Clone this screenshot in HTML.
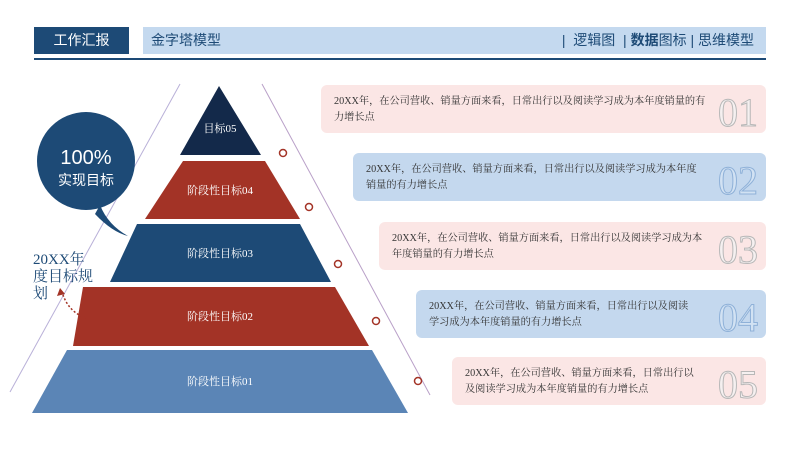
<!DOCTYPE html>
<html><head><meta charset="utf-8"><style>
body{margin:0;width:800px;height:450px;background:#fff;overflow:hidden;position:relative;font-family:"Liberation Serif","Noto Serif CJK SC",serif}
.abs{position:absolute}
.card{position:absolute;border-radius:6px;height:48px;}
.card p{margin:0;position:absolute;left:13px;top:9px;font-size:10.2px;line-height:16px;color:#333}
.num{position:absolute;right:8px;top:8px;font-size:40px;line-height:40px;color:transparent;-webkit-text-stroke:1px #b8b8b8;font-family:"Liberation Serif",serif}
.pink{background:#fbe6e5}
.blue{background:#c4d8ee}
.blue .num{-webkit-text-stroke:1px #8fb1d8;color:#d2e2f3}
.pink .num{color:#f5f0f0}
</style></head><body>
<div class="abs" style="left:34px;top:27px;width:95px;height:27px;background:#1d4a76;color:#fff;font-family:'Liberation Sans','Noto Sans CJK SC',sans-serif;font-size:14px;line-height:27px;text-align:center">工作汇报</div>
<div class="abs" style="left:143px;top:27px;width:623px;height:27px;background:#c4d9ef;font-family:'Liberation Sans','Noto Sans CJK SC',sans-serif;color:#1d4a76;font-size:14px;line-height:27px">
<span style="position:absolute;left:8px">金字塔模型</span>
<span style="position:absolute;right:12px">|&nbsp; 逻辑图 &nbsp;| <b>数据</b>图标 | 思维模型</span></div>
<div class="abs" style="left:34px;top:58px;width:732px;height:2px;background:#1d4a76"></div>

<svg class="abs" style="left:0;top:0" width="800" height="450">
<line x1="180" y1="84" x2="10" y2="392" stroke="#b9b0d8" stroke-width="1"/>
<line x1="262" y1="84" x2="430" y2="395" stroke="#b9a0c8" stroke-width="1"/>
<g fill="#fff" stroke="#a33326" stroke-width="1.5">
<circle cx="283" cy="153" r="3.5"/><circle cx="309" cy="207" r="3.5"/><circle cx="338" cy="264" r="3.5"/><circle cx="376" cy="321" r="3.5"/><circle cx="418" cy="381" r="3.5"/></g>
<polygon points="219,86 261,155 180,155" fill="#13294a"/>
<polygon points="183,161 265,161 300,219 145,219" fill="#a33326"/>
<polygon points="137,224 300,224 331,282 110,282" fill="#1d4a76"/>
<polygon points="83,287 335,287 369,346 73,346" fill="#a33326"/>
<polygon points="67,350 372,350 408,413 32,413" fill="#5b85b6"/>
<g fill="#fff" font-size="11" text-anchor="middle" font-family="Liberation Serif,Noto Serif CJK SC,serif">
<text x="220" y="132">目标05</text><text x="220" y="194">阶段性目标04</text><text x="220" y="257">阶段性目标03</text><text x="220" y="320">阶段性目标02</text><text x="220" y="385">阶段性目标01</text></g>
<path d="M100,205 Q108,225 128,236 Q112,232 95,214 Z" fill="#1d4a76"/>
<circle cx="86" cy="161" r="49" fill="#1d4a76"/>
<text x="86" y="164" fill="#fff" font-size="20" text-anchor="middle" font-family="Liberation Sans,sans-serif">100%</text>
<text x="86" y="185" fill="#fff" font-size="14" text-anchor="middle" font-family="Liberation Sans,Noto Sans CJK SC,sans-serif">实现目标</text>
<path d="M86,318 Q68,312 62,292" fill="none" stroke="#a33326" stroke-width="1.5" stroke-dasharray="2,2"/>
<polygon points="60,288 57,296 65,294" fill="#a33326"/>
</svg>
<div class="abs" style="left:33px;top:252px;font-size:15px;line-height:17px;color:#1d4a76;width:60px">20XX年<br>度目标规<br>划</div>

<div class="card pink" style="left:321px;top:85px;width:445px"><p>20XX年，在公司营收、销量方面来看，日常出行以及阅读学习成为本年度销量的有<br>力增长点</p><span class="num">01</span></div>
<div class="card blue" style="left:353px;top:153px;width:413px"><p>20XX年，在公司营收、销量方面来看，日常出行以及阅读学习成为本年度<br>销量的有力增长点</p><span class="num">02</span></div>
<div class="card pink" style="left:379px;top:222px;width:387px"><p>20XX年，在公司营收、销量方面来看，日常出行以及阅读学习成为本<br>年度销量的有力增长点</p><span class="num">03</span></div>
<div class="card blue" style="left:416px;top:290px;width:350px"><p>20XX年，在公司营收、销量方面来看，日常出行以及阅读<br>学习成为本年度销量的有力增长点</p><span class="num">04</span></div>
<div class="card pink" style="left:452px;top:357px;width:314px"><p>20XX年，在公司营收、销量方面来看，日常出行以<br>及阅读学习成为本年度销量的有力增长点</p><span class="num">05</span></div>
</body></html>
